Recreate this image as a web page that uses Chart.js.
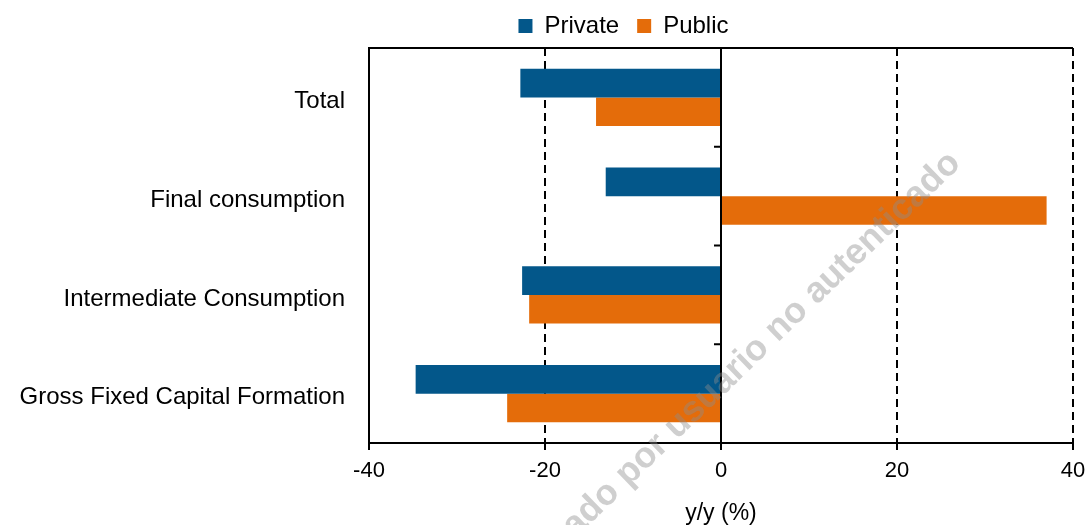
<!DOCTYPE html>
<html>
<head>
<meta charset="utf-8">
<script src="https://cdn.jsdelivr.net/npm/chart.js@4"></script>
<style>
  body { margin: 0; background: #fff; }
  #wrap { width: 1087px; height: 525px; }
</style>
</head>
<body>
<div id="wrap"><canvas id="myChart"></canvas></div>
<script>
var categories = ["Total", "Final consumption", "Intermediate Consumption", "Gross Fixed Capital Formation"];
var privateValues = [-22.8, -13.1, -22.6, -34.7];
var publicValues = [-14.2, 37.0, -21.8, -24.3];
var xTicks = [-40, -20, 0, 20, 40];
var seriesNames = ["Private", "Public"];
var seriesColors = ["#03578a", "#e46c0a"];

Chart.defaults.font.family = "'Liberation Sans', Arial, sans-serif";
Chart.defaults.font.size = 22;
Chart.defaults.color = "#000";

// frame, zero line, legend offset and watermark
var framePlugin = {
  id: "frame",
  afterLayout: function (chart) {
    var lg = chart.legend;
    lg.left += 80;
    lg.right += 80;
  },
  afterDatasetsDraw: function (chart) {
    var ctx = chart.ctx, area = chart.chartArea;
    var xs = chart.scales.x, ys = chart.scales.y;
    var x0 = xs.getPixelForValue(0);
    ctx.save();
    ctx.strokeStyle = "#000";
    ctx.lineWidth = 2;
    ctx.beginPath();
    ctx.moveTo(area.left, area.top);
    ctx.lineTo(area.right, area.top);
    ctx.moveTo(x0, area.top);
    ctx.lineTo(x0, area.bottom);
    for (var i = 1; i < categories.length; i++) {
      var yy = (ys.getPixelForTick(i - 1) + ys.getPixelForTick(i)) / 2;
      ctx.moveTo(x0 - 7, yy);
      ctx.lineTo(x0, yy);
    }
    ctx.stroke();
    ctx.restore();
  },
  afterDraw: function (chart) {
    var ctx = chart.ctx;
    ctx.save();
    ctx.translate(962, 165);
    ctx.rotate(-44 * Math.PI / 180);
    ctx.font = "bold 36px 'Liberation Sans', Arial, sans-serif";
    ctx.fillStyle = "rgba(140,140,140,0.42)";
    ctx.textAlign = "right";
    ctx.textBaseline = "alphabetic";
    ctx.fillText("Generado por usuario no autenticado", 0, 0);
    ctx.restore();
  }
};

new Chart("myChart", {
  type: "bar",
  data: {
    labels: categories,
    datasets: [
      { label: seriesNames[0], data: privateValues, backgroundColor: seriesColors[0] },
      { label: seriesNames[1], data: publicValues, backgroundColor: seriesColors[1] }
    ]
  },
  options: {
    indexAxis: "y",
    responsive: true,
    maintainAspectRatio: false,
    animation: false,
    layout: { padding: { top: -4, right: 0, bottom: 0, left: 0 } },
    datasets: { bar: { categoryPercentage: 0.58, barPercentage: 1.0 } },
    plugins: {
      legend: {
        position: "top",
        labels: { boxWidth: 14, boxHeight: 14, font: { size: 24 }, padding: 18 }
      },
      tooltip: { enabled: false }
    },
    scales: {
      x: {
        min: -40,
        max: 40,
        afterBuildTicks: function (scale) {
          scale.ticks = xTicks.map(function (v) { return { value: v }; });
        },
        afterFit: function (scale) {
          scale.height = 82;
          scale.paddingRight = 14;
        },
        grid: {
          color: function (c) {
            return (c.tick && (c.tick.value === 0 || c.tick.value === -40)) ? "rgba(0,0,0,0)" : "#000";
          },
          lineWidth: 2,
          tickColor: "#000",
          tickLength: 7,
          tickWidth: 2
        },
        border: { display: true, color: "#000", width: 2, dash: [8, 5] },
        ticks: { padding: 8, font: { size: 22 } },
        title: { display: true, text: "y/y (%)", font: { size: 23 }, padding: { top: 4, bottom: -2 } }
      },
      y: {
        afterFit: function (scale) { scale.width = 369; },
        grid: { display: false, drawTicks: false },
        border: { display: true, color: "#000", width: 2 },
        ticks: { padding: 24, labelOffset: 4, font: { size: 24 } }
      }
    }
  },
  plugins: [framePlugin]
});
</script>
</body>
</html>
